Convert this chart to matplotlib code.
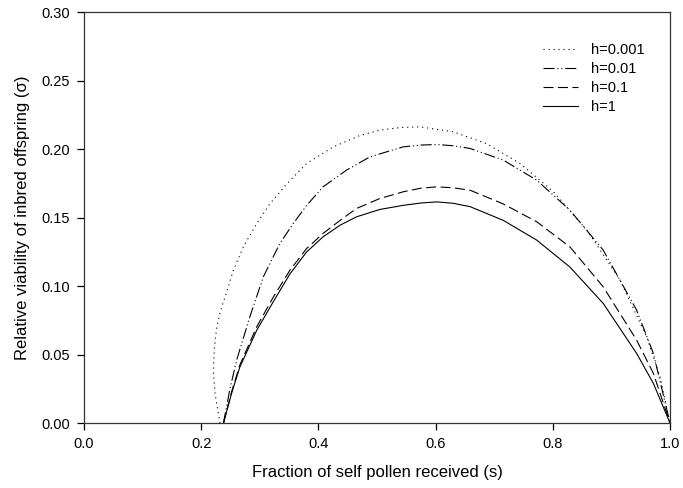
import matplotlib
matplotlib.use("Agg")
import matplotlib.pyplot as plt

plt.rcParams['font.family'] = ['Liberation Sans', 'DejaVu Sans']

# Values (s, sigma)
s_h0001 = [0.232, 0.2235, 0.2207, 0.2225, 0.2265, 0.233, 0.2406, 0.255, 0.272, 0.2947,
           0.317, 0.346, 0.380, 0.4255, 0.471, 0.505, 0.540, 0.573, 0.630, 0.687,
           0.744, 0.801, 0.858, 0.9147, 0.960, 0.983, 1.0]
sig_h0001 = [0.0, 0.0217, 0.0387, 0.055, 0.070, 0.082, 0.092, 0.1117, 0.1287, 0.1457,
             0.160, 0.1746, 0.1896, 0.2017, 0.210, 0.2139, 0.2158, 0.2163, 0.2127, 0.204,
             0.1896, 0.1689, 0.141, 0.1044, 0.063, 0.0338, 0.0]

s_h001 = [0.238, 0.249, 0.2605, 0.283, 0.306, 0.334, 0.357, 0.380, 0.408, 0.448,
          0.488, 0.545, 0.575, 0.602, 0.630, 0.659, 0.7155, 0.7725, 0.829, 0.886,
          0.943, 0.9716, 1.0]
sig_h001 = [0.0, 0.025, 0.046, 0.0776, 0.1068, 0.131, 0.1457, 0.159, 0.1725, 0.1847,
            0.1944, 0.2017, 0.2030, 0.2034, 0.2025, 0.2005, 0.192, 0.1774, 0.1555, 0.1263,
            0.0825, 0.0509, 0.0]

s_h01 = [0.238, 0.252, 0.266, 0.295, 0.323, 0.3515, 0.380, 0.408, 0.437, 0.465,
         0.505, 0.545, 0.575, 0.602, 0.630, 0.659, 0.7155, 0.7725, 0.829, 0.886,
         0.943, 0.9716, 1.0]
sig_h01 = [0.0, 0.023, 0.0425, 0.0705, 0.092, 0.1117, 0.1275, 0.1385, 0.148, 0.1567,
           0.164, 0.1689, 0.1715, 0.1725, 0.1718, 0.170, 0.160, 0.147, 0.1287, 0.0995,
           0.0606, 0.0363, 0.0]

s_h1 = [0.238, 0.252, 0.266, 0.295, 0.323, 0.3515, 0.380, 0.408, 0.437, 0.465,
        0.505, 0.545, 0.575, 0.602, 0.630, 0.659, 0.7155, 0.7725, 0.829, 0.886,
        0.943, 0.9716, 1.0]
sig_h1 = [0.0, 0.022, 0.041, 0.068, 0.0886, 0.109, 0.125, 0.136, 0.1445, 0.1506,
          0.156, 0.159, 0.1607, 0.1615, 0.1605, 0.158, 0.148, 0.1336, 0.114, 0.0874,
          0.0509, 0.029, 0.0]

labels = ["h=0.001", "h=0.01", "h=0.1", "h=1"]

fig = plt.figure(figsize=(6.83, 4.88), dpi=100)
ax = fig.add_axes([0.123, 0.133, 0.858, 0.842])

lw = 0.8
ax.plot(s_h0001, sig_h0001, color='black', lw=lw, linestyle=(0, (1, 3.5)), label=labels[0])
ax.plot(s_h001, sig_h001, color='black', lw=lw,
        linestyle=(0, (10, 2.5, 1, 2.5, 1, 2.5)), label=labels[1])
ax.plot(s_h01, sig_h01, color='black', lw=lw, linestyle=(0, (9, 4)), label=labels[2])
ax.plot(s_h1, sig_h1, color='black', lw=lw, linestyle='-', label=labels[3])

ax.set_xlim(0, 1.0)
ax.set_ylim(0, 0.30)
ax.set_xticks([0.0, 0.2, 0.4, 0.6, 0.8, 1.0])
ax.set_xticklabels(["0.0", "0.2", "0.4", "0.6", "0.8", "1.0"])
ax.set_yticks([0.0, 0.05, 0.10, 0.15, 0.20, 0.25, 0.30])
ax.set_yticklabels(["0.00", "0.05", "0.10", "0.15", "0.20", "0.25", "0.30"])
ax.tick_params(direction='out', length=5, width=0.9, labelsize=10.5, pad=5,
               top=False, right=False)

for sp in ax.spines.values():
    sp.set_linewidth(0.9)
    sp.set_color('#333333')

ax.set_xlabel("Fraction of self pollen received (s)", fontsize=12, labelpad=10)
ax.set_ylabel("Relative viability of inbred offspring (\u03c3)", fontsize=12, labelpad=8)

ax.legend(loc='upper left', bbox_to_anchor=(0.783, 0.925), frameon=False,
          fontsize=10.5, handlelength=2.4, handletextpad=0.9, labelspacing=0.35,
          borderpad=0, borderaxespad=0)

fig.savefig("out.png", dpi=100)
